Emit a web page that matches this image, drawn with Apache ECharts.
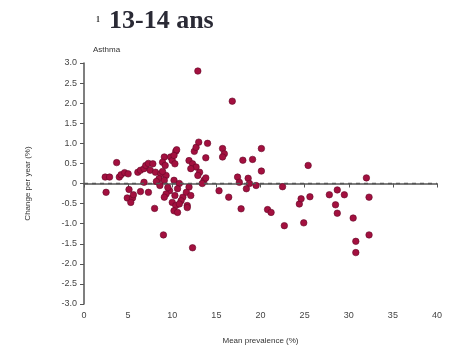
<!DOCTYPE html>
<html>
<head>
<meta charset="utf-8">
<script src="https://cdn.jsdelivr.net/npm/echarts@6/dist/echarts.min.js"></script>
<style>
  html, body { margin: 0; padding: 0; background: #fff; }
  #main { width: 452px; height: 355px; }
</style>
</head>
<body>
<div id="main"></div>
<script>
// mean prevalence (%) of each centre
var prevalence = [
  2.4, 2.9, 2.5, 3.7, 4.0, 4.2, 4.6, 5.0, 5.1, 4.9, 5.5, 5.3, 5.6,
  6.1, 6.4, 6.8, 7.0, 7.3, 6.8, 6.4, 7.3, 8.0, 7.8, 7.5,
  8.1, 8.7, 9.3, 8.5, 9.1, 8.2, 8.6, 8.9,
  9.1, 8.9, 9.2, 9.8, 10.0, 10.4, 10.2, 10.3, 10.5,
  9.7, 9.3, 9.1, 9.5,
  10.2, 10.8, 10.6, 10.0, 10.4, 10.2, 10.6, 10.3,
  11.2, 11.0, 10.8, 11.7, 11.9, 11.6, 12.1, 11.7,
  11.9, 12.3, 12.7, 12.1, 13.1, 12.9, 12.5, 12.7,
  13.0, 14.0, 13.8, 13.6, 13.4, 13.8,
  12.9, 9.0, 12.3,
  15.3, 16.4, 15.7, 15.9, 15.7, 16.8,
  17.4, 18.6, 17.6, 18.75, 18.4, 19.5, 17.8, 18.0, 19.1,
  20.1, 20.1, 20.8, 21.2, 22.5, 22.7,
  24.4, 24.6, 25.6, 24.9, 25.4,
  27.8, 28.7, 29.5, 28.5, 28.7,
  30.5, 30.8, 30.8, 32.0, 32.3, 32.3
];
// change per year (%)
var change = [
  0.16, 0.16, -0.22, 0.52, 0.16, 0.22, 0.27, 0.24, -0.15, -0.36, -0.36, -0.47, -0.28,
  0.28, 0.33, 0.37, 0.45, 0.5, 0.03, -0.2, -0.22, -0.62, 0.49, 0.33,
  0.28, 0.24, 0.2, 0.12, 0.08, 0.05, -0.05, 0.3,
  0.66, 0.53, 0.45, 0.66, 0.57, 0.8, 0.7, 0.49, 0.84,
  -0.18, -0.26, -0.34, -0.1,
  0.08, 0.0, -0.13, -0.47, -0.55, -0.68, -0.72, -0.3,
  -0.34, -0.43, -0.51, -0.55, -0.09, -0.22, -0.3, -0.6,
  0.57, 0.49, 0.41, 0.37, 0.28, 0.2, 0.8, 0.9,
  1.03, 1.0, 0.64, 0.08, 0.0, 0.14,
  2.8, -1.28, -1.6,
  -0.18, -0.34, 0.87, 0.74, 0.66, 2.05,
  0.16, 0.13, 0.03, 0.0, -0.13, -0.05, -0.63, 0.58, 0.6,
  0.87, 0.31, -0.65, -0.72, -0.08, -1.05,
  -0.51, -0.38, -0.33, -0.98, 0.45,
  -0.28, -0.16, -0.28, -0.53, -0.74,
  -0.86, -1.44, -1.72, 0.14, -0.34, -1.28
];
var xTicks = [0, 5, 10, 15, 20, 25, 30, 35, 40];
var yTicks = [-3, -2.5, -2, -1.5, -1, -0.5, 0, 0.5, 1, 1.5, 2, 2.5, 3];

var points = [];
for (var i = 0; i < prevalence.length; i++) {
  points.push([prevalence[i], change[i]]);
}

var myChart = echarts.init(document.getElementById('main'));
var axisGrey = '#555';
var option = {
  animation: false,
  backgroundColor: '#fff',
  textStyle: { fontFamily: 'Liberation Sans, Arial, sans-serif' },
  title: [
    {
      text: '13-14 ans',
      left: 104,
      top: 3,
      textStyle: { fontFamily: 'Liberation Serif, DejaVu Serif, serif', fontSize: 26, fontWeight: 'bold', color: '#2a2a35' }
    },
    {
      text: '1',
      left: 91,
      top: 11,
      textStyle: { fontFamily: 'Liberation Serif, serif', fontSize: 8, fontWeight: 'bold', color: '#333' }
    },
    {
      text: 'Asthma',
      left: 88,
      top: 41,
      textStyle: { fontSize: 8, fontWeight: 'normal', color: '#333' }
    }
  ],
  grid: { left: 84, right: 15, top: 63, bottom: 51 },
  xAxis: {
    type: 'value',
    min: xTicks[0],
    max: xTicks[xTicks.length - 1],
    interval: 5,
    name: 'Mean prevalence (%)',
    nameLocation: 'middle',
    nameGap: 33,
    nameTextStyle: { fontSize: 8, color: '#333' },
    axisLine: { show: true, lineStyle: { color: axisGrey, width: 1.5 } },
    axisTick: { show: true, length: 4, lineStyle: { color: axisGrey } },
    axisLabel: { fontSize: 9, color: '#444', margin: 7 },
    splitLine: { show: false }
  },
  yAxis: {
    type: 'value',
    min: yTicks[0],
    max: yTicks[yTicks.length - 1],
    interval: 0.5,
    name: 'Change per year (%)',
    nameLocation: 'middle',
    nameGap: 52,
    nameTextStyle: { fontSize: 8, color: '#333' },
    axisLine: { show: true, lineStyle: { color: axisGrey, width: 1.5 } },
    axisTick: { show: true, length: 4, lineStyle: { color: axisGrey } },
    axisLabel: {
      fontSize: 9,
      color: '#444',
      margin: 7,
      formatter: function (v) { return v === 0 ? '0' : v.toFixed(1); }
    },
    splitLine: { show: false }
  },
  series: [
    {
      type: 'scatter',
      data: points,
      symbolSize: 6.5,
      itemStyle: { color: '#a3103f', borderColor: '#650828', borderWidth: 0.6, opacity: 1 },
      markLine: {
        silent: true,
        symbol: 'none',
        label: { show: false },
        lineStyle: { color: '#555', type: [4, 4], width: 1.4 },
        data: [{ yAxis: 0 }]
      }
    }
  ]
};
myChart.setOption(option);
</script>
</body>
</html>
